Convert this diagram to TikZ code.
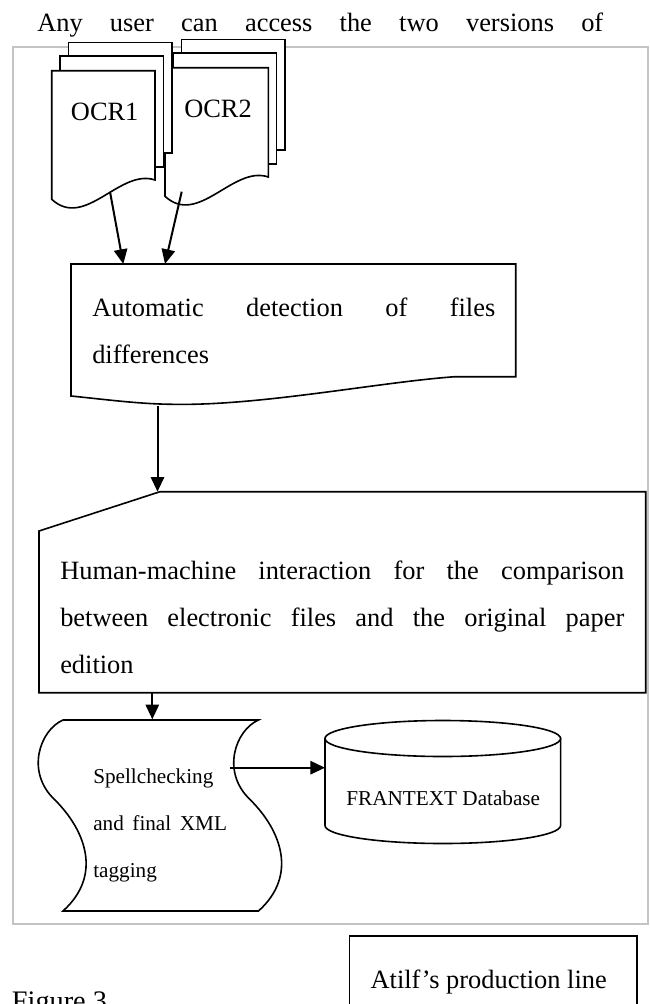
\documentclass[tikz,border=0pt]{standalone}
\usepackage{fontspec}
\setmainfont{Liberation Serif}
\usetikzlibrary{arrows.meta}
\definecolor{framegray}{RGB}{196,196,196}
\tikzset{
  sheet/.style={draw, fill=white, line width=1.2pt},
  arr/.style={line width=1.5pt, -{Triangle[length=11pt,width=10pt]}},
  bigtxt/.style={font=\fontsize{19.8}{35.5}\selectfont, inner sep=0pt},
  smalltxt/.style={font=\fontsize{15.9}{35.6}\selectfont, inner sep=0pt},
}
\newcommand{\fillline}[2]{\makebox[#1][s]{#2}}
\begin{document}
\begin{tikzpicture}[x=0.75pt, y=-0.75pt]
        \useasboundingbox (0,0) rectangle (650,1004);
        \clip (0,0) rectangle (650,1004);
        \node[bigtxt, anchor=base west] (intro) at (37,31.7) {\fillline{424.5pt}{Any user can access the two versions of}};
        \draw[framegray, line width=1.5pt] (12.5,47) rectangle (648.3,924);
        \foreach \dx/\dy/\name in {113.3/-3/OCR2, 0/0/OCR1} {
            \begin{scope}[shift={(\dx,\dy)}]
                \draw[sheet] (68.3,42.3) rectangle (171.7,152.7);
                \draw[sheet] (60,56) rectangle (163.3,166.7);
                \draw[sheet] (51.7,70.7) -- (155,70.7) -- (155,180) .. controls (120,168) and (85,230) .. (51.7,199.3) -- cycle;
                \node[bigtxt, anchor=base] (\name) at (104.7,120) {\name};
            \end{scope}
        }
        \draw[sheet] (71,264) -- (515.7,264) -- (515.7,376.7) -- (455,376.7) .. controls (380,382) and (260,406) .. (173,404.3) .. controls (140,404) and (110,400) .. (71,396) -- cycle;
        \node[bigtxt, anchor=base west] (detect) at (92,316) {\vtop{\hbox{\fillline{302.25pt}{Automatic detection of files}}\hbox{differences}}};
        \draw[sheet] (160,491.7) -- (645.7,491.7) -- (645.7,692.7) -- (39,692.7) -- (39,531) -- cycle;
        \node[bigtxt, anchor=base west] (compare) at (60,579.3) {\vtop{\hbox{\fillline{423pt}{Human-machine interaction for the comparison}}\hbox{\fillline{423pt}{between electronic files and the original paper}}\hbox{edition}}};
        \draw[sheet] (63,720) -- (258.5,720) .. controls (235.5,730) and (220.5,772) .. (250.5,800) .. controls (280.5,830) and (298.5,875) .. (258.5,911) -- (63,911) .. controls (103,875) and (85,830) .. (55,800) .. controls (25,772) and (40,730) .. (63,720) -- cycle;
        \node[smalltxt, anchor=base west] (spell) at (93,783) {\vtop{\hbox{Spellchecking}\hbox{\fillline{100.3pt}{and final XML}}\hbox{tagging}}};
        \draw[sheet] (325,738.5) -- (325,825.5) arc[start angle=180, end angle=0, x radius=117.8, y radius=18] -- (560.6,738.5) -- cycle;
        \draw[sheet] (442.8,738.5) ellipse [x radius=117.8, y radius=18];
        \node[smalltxt, anchor=base] (frantext) at (443.3,805) {FRANTEXT Database};
        \coordinate (ocr1out) at (110,191.7);
        \coordinate (ocr2out) at (181.7,191.7);
        \coordinate (detectin1) at (123.3,264);
        \coordinate (detectin2) at (165,264);
        \coordinate (detectout) at (157.5,406);
        \coordinate (comparein) at (157.5,491.7);
        \coordinate (compareout) at (152.3,692.7);
        \coordinate (spellin) at (152.3,719.3);
        \coordinate (spellout) at (230,767.7);
        \coordinate (frantextin) at (325,767.7);
        \draw[arr] (ocr1out) -- (detectin1);
        \draw[arr] (ocr2out) -- (detectin2);
        \draw[arr] (detectout) -- (comparein);
        \draw[arr] (compareout) -- (spellin);
        \draw[arr] (spellout) -- (frantextin);
        \draw[line width=1.2pt] (349.3,936) rectangle (636.7,1040);
        \node[bigtxt, anchor=base] (atilf) at (488.7,988) {Atilf's production line};
        \node[font=\fontsize{21.2}{25}\selectfont, inner sep=0pt, anchor=base west] (figlabel) at (11.7,1010.4) {Figure 3};
    \end{tikzpicture}
\end{document}
